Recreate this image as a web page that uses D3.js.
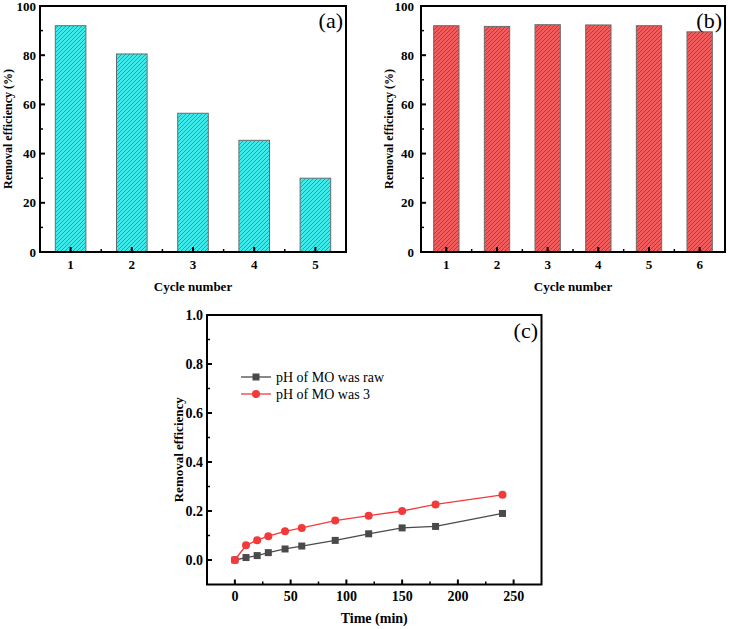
<!DOCTYPE html>
<html>
<head>
<meta charset="utf-8">
<script src="https://cdn.jsdelivr.net/npm/d3@7"></script>
<style>
  html, body { margin: 0; padding: 0; background: #fff; }
  svg { display: block; }
</style>
</head>
<body>
<svg id="chart" width="730" height="629" font-family="'Liberation Serif', 'Times New Roman', Tinos, 'DejaVu Serif', serif"></svg>
<script>
// ---- Data ----
const cyclesA = [1, 2, 3, 4, 5];
const removalA = [92, 80.5, 56.4, 45.4, 30];
const cyclesB = [1, 2, 3, 4, 5, 6];
const removalB = [92, 91.7, 92.4, 92.3, 92, 89.5];
const barYTicks = [0, 20, 40, 60, 80, 100];

const timeMin = [0, 10, 20, 30, 45, 60, 90, 120, 150, 180, 240];
const effRaw = [0, 0.01, 0.018, 0.03, 0.045, 0.057, 0.08, 0.107, 0.131, 0.137, 0.19];
const effPH3 = [0, 0.06, 0.081, 0.097, 0.117, 0.131, 0.161, 0.181, 0.2, 0.227, 0.266];
const seriesNames = ["pH of MO was raw", "pH of MO was 3"];
const timeTicks = [0, 50, 100, 150, 200, 250];
const effTicks = [0.0, 0.2, 0.4, 0.6, 0.8, 1.0];

const FONT = "'Liberation Serif', 'Times New Roman', Tinos, 'DejaVu Serif', serif";
const svg = d3.select("#chart");
const defs = svg.append("defs");

function hatch(id, fill, line) {
  const p = defs.append("pattern").attr("id", id)
    .attr("patternUnits", "userSpaceOnUse").attr("width", 4).attr("height", 4);
  p.append("rect").attr("width", 4).attr("height", 4).attr("fill", fill);
  p.append("path").attr("d", "M-1,1 l2,-2 M0,4 l4,-4 M3,5 l2,-2")
    .attr("stroke", line).attr("stroke-width", 0.9);
}
hatch("hatchCyan", "#3EEAEA", "#1C9E9E");
hatch("hatchRed", "#F25C5C", "#B23434");

function txt(g) {
  return g.append("text").attr("font-family", FONT).attr("fill", "#000");
}

function frameAxes(g, x, y, xMajor, xMinor, yMajor, yMinor, opts) {
  const [x0, x1] = x.range();
  const [y0, y1] = y.range();
  xMajor.forEach(v => g.append("line").attr("x1", x(v)).attr("x2", x(v))
    .attr("y1", y0).attr("y2", y0 - 5).attr("stroke", "#000").attr("stroke-width", 2));
  xMinor.forEach(v => g.append("line").attr("x1", x(v)).attr("x2", x(v))
    .attr("y1", y0).attr("y2", y0 - 3).attr("stroke", "#000").attr("stroke-width", 1.5));
  yMajor.forEach(v => g.append("line").attr("y1", y(v)).attr("y2", y(v))
    .attr("x1", x0).attr("x2", x0 + 5).attr("stroke", "#000").attr("stroke-width", 2));
  yMinor.forEach(v => g.append("line").attr("y1", y(v)).attr("y2", y(v))
    .attr("x1", x0).attr("x2", x0 + 3).attr("stroke", "#000").attr("stroke-width", 1.5));
  g.append("rect").attr("class", "frame").attr("x", x0).attr("y", y1).attr("width", x1 - x0).attr("height", y0 - y1)
    .attr("fill", "none").attr("stroke", "#000").attr("stroke-width", 2);
  xMajor.forEach(d => txt(g).attr("x", x(d)).attr("y", y0 + opts.xLabOff)
    .attr("text-anchor", "middle").attr("font-weight", "bold").attr("font-size", opts.fs)
    .text(opts.xFmt(d)));
  yMajor.forEach(d => txt(g).attr("x", x0 - opts.yLabOff).attr("y", y(d)).attr("dy", "0.35em")
    .attr("text-anchor", "end").attr("font-weight", "bold").attr("font-size", opts.fs)
    .text(opts.yFmt(d)));
}

function barPanel(data, cats, left, right, fillId, label, yTitleX, yLabOff) {
  const g = svg.append("g");
  const x = d3.scaleLinear().domain([0.5, cats.length + 0.5]).range([left, right]);
  const y = d3.scaleLinear().domain([0, 100]).range([252, 6]);
  const bw = x(1.25) - x(1);
  g.append("g").selectAll("rect").data(data).enter().append("rect")
    .attr("x", (d, i) => x(cats[i]) - bw)
    .attr("width", 2 * bw)
    .attr("y", d => y(d))
    .attr("height", d => y(0) - y(d))
    .attr("fill", `url(#${fillId})`)
    .attr("stroke", "#6b6b6b").attr("stroke-width", 1);
  const minorX = d3.range(1.5, cats.length + 0.5, 1);
  frameAxes(g, x, y, cats, minorX, barYTicks, [10, 30, 50, 70, 90],
    { fs: 13, xLabOff: 17, yLabOff: yLabOff, xFmt: d => d, yFmt: d => d });
  txt(g).attr("x", (left + right) / 2).attr("y", 291)
    .attr("text-anchor", "middle").attr("font-weight", "bold").attr("font-size", 13)
    .text("Cycle number");
  txt(g).attr("transform", `translate(${yTitleX},${(6 + 252) / 2}) rotate(-90)`)
    .attr("text-anchor", "middle").attr("font-weight", "bold").attr("font-size", 12)
    .text("Removal efficiency (%)");
  txt(g).attr("x", right - 3).attr("y", 28).attr("text-anchor", "end")
    .attr("font-size", 22).text(label);
}

barPanel(removalA, cyclesA, 40, 346, "hatchCyan", "(a)", 12, 4);
barPanel(removalB, cyclesB, 421, 725, "hatchRed", "(b)", 393, 7);

// ---- Panel (c) ----
(function () {
  const g = svg.append("g");
  const x = d3.scaleLinear().domain([-25, 275]).range([207, 541.5]);
  const y = d3.scaleLinear().domain([-0.1, 1.0]).range([584.5, 315]);
  frameAxes(g, x, y, timeTicks, [25, 75, 125, 175, 225],
    effTicks, [0.1, 0.3, 0.5, 0.7, 0.9],
    { fs: 14, xLabOff: 16, yLabOff: 4, xFmt: d => d, yFmt: d3.format(".1f") });

  const line = d3.line().x(d => x(d[0])).y(d => y(d[1]));
  const rawPts = timeMin.map((t, i) => [t, effRaw[i]]);
  const ph3Pts = timeMin.map((t, i) => [t, effPH3[i]]);
  const grey = "#4a4a4a", red = "#F23A3A";
  g.append("path").datum(rawPts).attr("d", line).attr("fill", "none")
    .attr("stroke", grey).attr("stroke-width", 1.3);
  g.selectAll(null).data(rawPts).enter().append("rect")
    .attr("x", d => x(d[0]) - 3.5).attr("y", d => y(d[1]) - 3.5)
    .attr("width", 7).attr("height", 7).attr("fill", grey);
  g.append("path").datum(ph3Pts).attr("d", line).attr("fill", "none")
    .attr("stroke", red).attr("stroke-width", 1.3);
  g.selectAll(null).data(ph3Pts).enter().append("circle")
    .attr("cx", d => x(d[0])).attr("cy", d => y(d[1])).attr("r", 4).attr("fill", red);

  const ly = [377, 394];
  [grey, red].forEach((c, i) => {
    g.append("line").attr("x1", 241).attr("x2", 271).attr("y1", ly[i]).attr("y2", ly[i])
      .attr("stroke", c).attr("stroke-width", 1.3);
    if (i === 0) g.append("rect").attr("x", 256 - 3.5).attr("y", ly[i] - 3.5)
      .attr("width", 7).attr("height", 7).attr("fill", c);
    else g.append("circle").attr("cx", 256).attr("cy", ly[i]).attr("r", 4).attr("fill", c);
    txt(g).attr("x", 276).attr("y", ly[i]).attr("dy", "0.35em")
      .attr("font-size", 14).text(seriesNames[i]);
  });

  txt(g).attr("x", (207 + 541.5) / 2).attr("y", 623)
    .attr("text-anchor", "middle").attr("font-weight", "bold").attr("font-size", 14)
    .text("Time (min)");
  txt(g).attr("transform", `translate(${183},${(315 + 584.5) / 2}) rotate(-90)`)
    .attr("text-anchor", "middle").attr("font-weight", "bold").attr("font-size", 13)
    .text("Removal efficiency");
  txt(g).attr("x", 538).attr("y", 338).attr("text-anchor", "end")
    .attr("font-size", 22).text("(c)");
})();
</script>
</body>
</html>
